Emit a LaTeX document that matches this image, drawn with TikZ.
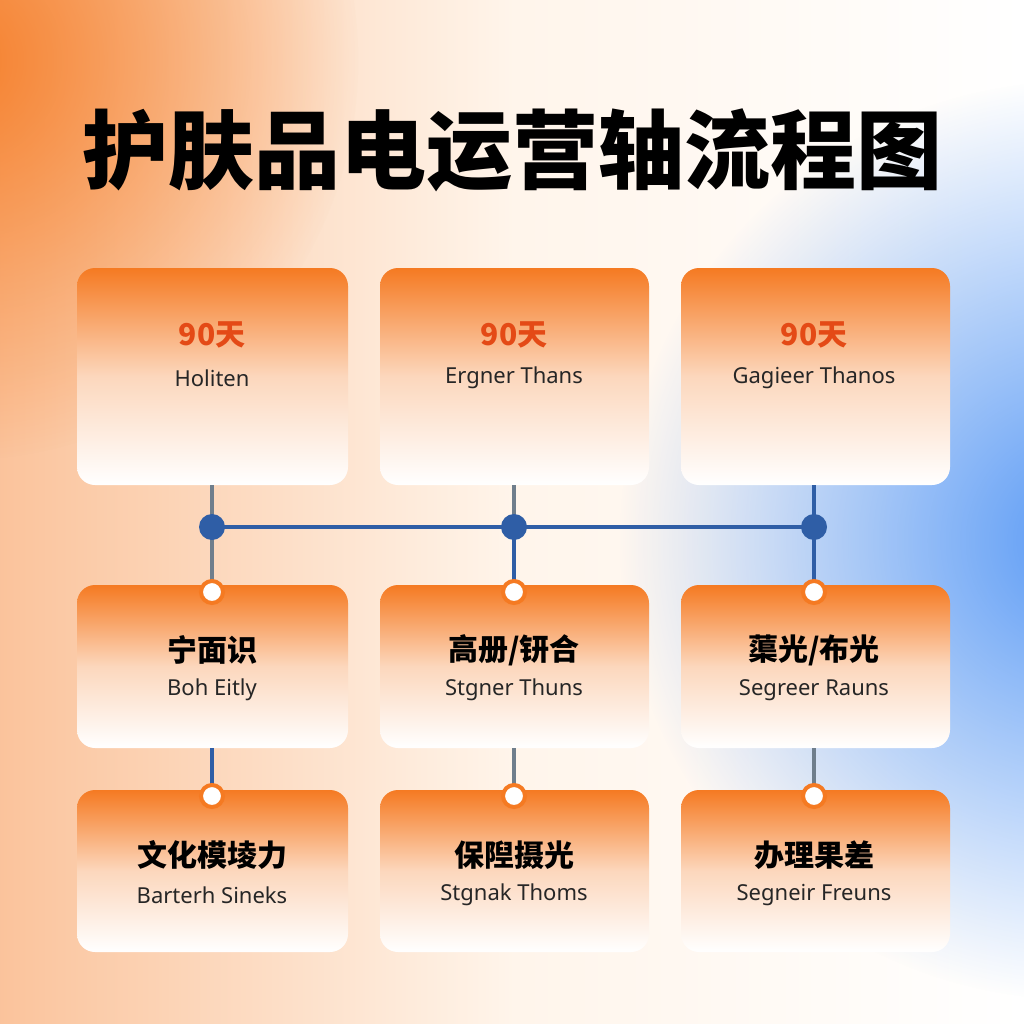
\documentclass[tikz,border=0pt]{standalone}
\usepackage{fontspec}
\setmainfont{Noto Sans}
\newfontfamily\cjk{Noto Sans CJK SC}
\usetikzlibrary{fadings}
\tikzfading[name=myfo, inner color=transparent!0, outer color=transparent!100]
\definecolor{org}{HTML}{F57A22}
\definecolor{red1}{HTML}{E44A16}
\definecolor{bus}{HTML}{2F5EA6}
\definecolor{gl}{HTML}{6F7E8C}
\definecolor{sky}{HTML}{5A9AF5}
\tikzset{
 card/.style={rounded corners=18pt, draw=none},
 ct/.style={font=\cjk\bfseries\fontsize{30}{32}\selectfont, text=black},
 et/.style={font=\fontsize{22}{24}\selectfont, text=black!85},
 dt/.style={font=\cjk\bfseries\fontsize{30}{32}\selectfont, text=red1},
 bd/.style={circle, fill=bus, minimum size=26pt, inner sep=0pt},
 pd/.style={circle, fill=white, draw=org, line width=4pt, minimum size=22pt, inner sep=0pt},
 ln/.style={line width=4pt, bus},
 lg/.style={line width=4pt, gl},
}
\newcommand{\card}[4]{\shade[card, top color=org, bottom color=white, middle color=org!30] (#1,#2) rectangle (#3,#4);}
\begin{document}
\begin{tikzpicture}[x=1pt,y=-1pt]
\useasboundingbox (0,0) rectangle (1024,1024);
\shade[shading=axis, shading angle=135, left color=org!45!white, right color=white, middle color=white!92!orange] (0,0) rectangle (1024,1024);
\fill[sky, path fading=myfo] (1080,540) circle (460);
\fill[org, path fading=myfo, opacity=0.9] (-40,60) circle (400);
\node[font=\cjk\bfseries\fontsize{86}{90}\selectfont] (title) at (512,150) {护肤品电运营轴流程图};
% cards
\card{77}{268}{348}{485}\card{380}{268}{649}{485}\card{681}{268}{950}{485}
\card{77}{585}{348}{748}\card{380}{585}{649}{748}\card{681}{585}{950}{748}
\card{77}{790}{348}{952}\card{380}{790}{649}{952}\card{681}{790}{950}{952}
\coordinate (t1) at (212,485);\coordinate (t2) at (514,485);\coordinate (t3) at (814,485);
\coordinate (b1) at (212,527);\coordinate (b2) at (514,527);\coordinate (b3) at (814,527);
\coordinate (m1) at (212,592);\coordinate (m2) at (514,592);\coordinate (m3) at (814,592);
\coordinate (u1) at (212,748);\coordinate (u2) at (514,748);\coordinate (u3) at (814,748);
\coordinate (l1) at (212,796);\coordinate (l2) at (514,796);\coordinate (l3) at (814,796);
\draw[lg] (t1) -- (b1); \draw[lg] (t2) -- (b2); \draw[ln] (t3) -- (b3);
\draw[ln] (b1) -- (b2); \draw[ln] (b2) -- (b3);
\draw[lg] (b1) -- (m1); \draw[ln] (b2) -- (m2); \draw[ln] (b3) -- (m3);
\draw[ln] (u1) -- (l1); \draw[lg] (u2) -- (l2); \draw[lg] (u3) -- (l3);
\node[bd] (B1) at (b1) {};\node[bd] (B2) at (b2) {};\node[bd] (B3) at (b3) {};
\node[pd] (M1) at (m1) {};\node[pd] (M2) at (m2) {};\node[pd] (M3) at (m3) {};
\node[pd] (L1) at (l1) {};\node[pd] (L2) at (l2) {};\node[pd] (L3) at (l3) {};
% texts
\node[dt] (d1) at (212,335) {90天};
\node[dt] (d2) at (514,335) {90天};
\node[dt] (d3) at (814,335) {90天};
\node[et] (e1) at (212,378) {Holiten};
\node[et] (e2) at (514,378) {Ergner Thans};
\node[et] (e3) at (814,378) {Gagieer Thanos};
\node[ct] (c4) at (212,650) {宁面识};
\node[ct] (c5) at (514,650) {高册/钘合};
\node[ct] (c6) at (814,650) {蕖光/布光};
\node[et] (e4) at (212,690) {Boh Eitly};
\node[et] (e5) at (514,690) {Stgner Thuns};
\node[et] (e6) at (814,690) {Segreer Rauns};
\node[ct] (c7) at (212,855) {文化模堎力};
\node[ct] (c8) at (514,855) {保隉摄光};
\node[ct] (c9) at (814,855) {办理果差};
\node[et] (e7) at (212,895) {Barterh Sineks};
\node[et] (e8) at (514,895) {Stgnak Thoms};
\node[et] (e9) at (814,895) {Segneir Freuns};
\end{tikzpicture}
\end{document}
